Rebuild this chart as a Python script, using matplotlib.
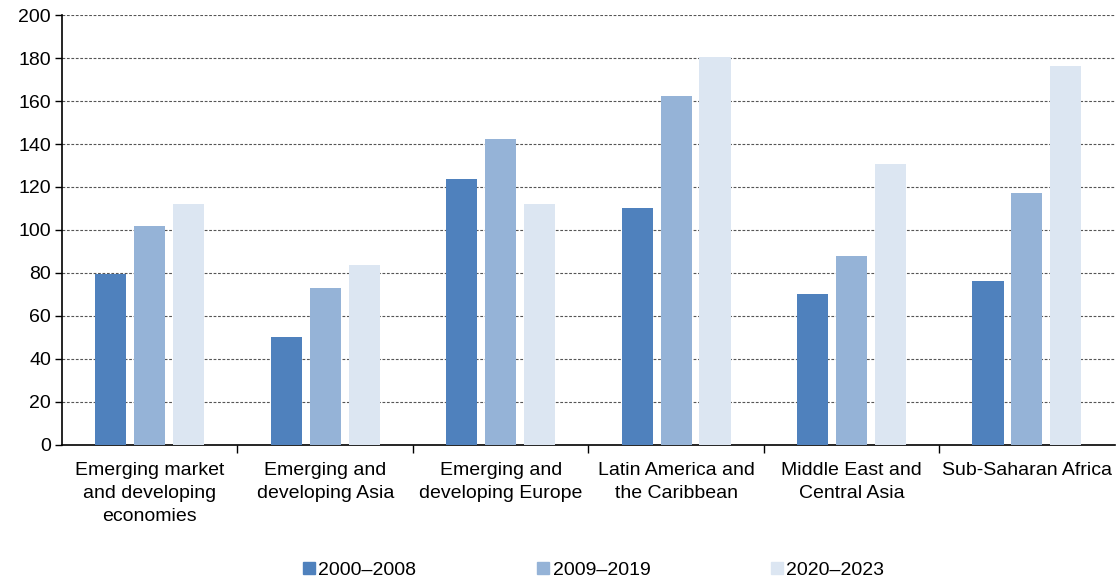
import matplotlib.pyplot as plt
import numpy as np
from matplotlib.patches import Patch

plt.rcParams['font.family'] = ['Liberation Sans', 'DejaVu Sans']

categories = ["Emerging market\nand developing\neconomies", "Emerging and\ndeveloping Asia",
              "Emerging and\ndeveloping Europe", "Latin America and\nthe Caribbean",
              "Middle East and\nCentral Asia", "Sub-Saharan Africa"]
series_names = ["2000\u20132008", "2009\u20132019", "2020\u20132023"]
v2000_2008 = [79.5, 50.2, 123.7, 110.2, 70.2, 76.3]
v2009_2019 = [101.9, 73.2, 142.3, 162.3, 87.9, 117.2]
v2020_2023 = [112.0, 83.7, 112.0, 180.5, 130.7, 176.3]
colors = ["#4F81BD", "#95B3D7", "#DCE6F2"]

fig = plt.figure(figsize=(11.18, 5.8), dpi=100)
ax = fig.add_axes([0.0555, 0.233, 0.9415, 0.741])

x = np.arange(len(categories))
width = 0.177
step = 0.222
for i, vals in enumerate([v2000_2008, v2009_2019, v2020_2023]):
    ax.bar(x + (i - 1) * step, vals, width=width, color=colors[i], zorder=3)

ax.set_xlim(-0.5, len(categories) - 0.5)
ax.set_ylim(0, 200)
ax.set_yticks(range(0, 201, 20))
ax.tick_params(axis='y', labelsize=14, length=5, width=1, direction='out', pad=3)
for y in range(20, 201, 20):
    ax.axhline(y, color='#555555', linestyle=(0, (2.5, 1.5)), linewidth=0.8, zorder=1)

ax.set_xticks(x)
ax.set_xticklabels(categories, fontsize=14, linespacing=1.47)
ax.tick_params(axis='x', length=0, pad=12)
ax.set_xticks(np.arange(0.5, len(categories) - 0.5, 1), minor=True)
ax.tick_params(axis='x', which='minor', length=6, width=1, direction='out')

for s in ['top', 'right']:
    ax.spines[s].set_visible(False)
for s in ['left', 'bottom']:
    ax.spines[s].set_linewidth(1.2)

handles = [Patch(color=c) for c in colors]
fig.legend(handles, series_names, loc='lower center', bbox_to_anchor=(0.531, -0.028), ncol=3,
           frameon=False, fontsize=14, handlelength=0.6, handleheight=0.6,
           handletextpad=0.2, columnspacing=6.2)

fig.savefig("out.png", dpi=100)
